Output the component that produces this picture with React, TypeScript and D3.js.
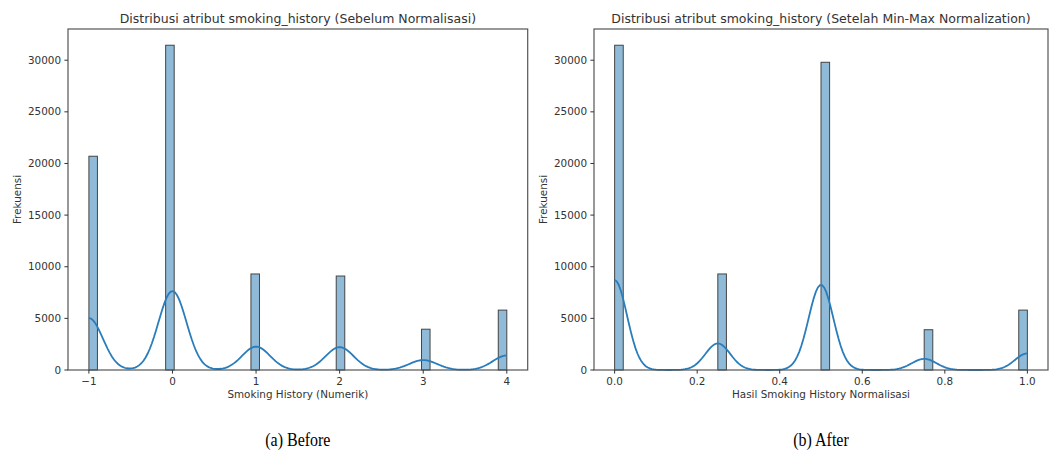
import * as d3 from "d3";

// Counts (smoking_history)
const BEFORE_VALUES = [-1, 0, 1, 2, 3, 4];
const BEFORE_COUNTS = [20700, 31450, 9300, 9100, 3950, 5800];
const BEFORE_TICKS = [-1, 0, 1, 2, 3, 4];

const AFTER_VALUES = [0, 0.25, 0.5, 0.75, 1];
const AFTER_COUNTS = [31450, 9300, 29800, 3900, 5800];
const AFTER_TICKS = [0, 0.2, 0.4, 0.6, 0.8, 1.0];

const Y_TICKS = [0, 5000, 10000, 15000, 20000, 25000, 30000];

const W = 1050;
const H = 452;
const TOP = 29;
const BOTTOM = 370;

const BAR_FILL = "rgba(31,119,180,0.5)";
const BAR_EDGE = "#444";
const KDE_COLOR = "#2a7dba";
const SPINE = "#555";
const TEXT = "#333";
const FONT = "'DejaVu Sans', sans-serif";

interface PanelProps {
  values: number[];
  counts: number[];
  xTicks: number[];
  xFormat: (d: number) => string;
  bins: number;
  bandwidth: number;
  title: string;
  xLabel: string;
  caption: string;
  left: number;
  right: number;
  yLabelX: number;
}

function Panel(p: PanelProps) {
  const [min, max] = d3.extent(p.values) as [number, number];
  const pad = (max - min) * 0.05;
  const x = d3.scaleLinear().domain([min - pad, max + pad]).range([p.left, p.right]);
  const y = d3.scaleLinear().domain([0, (d3.max(p.counts) as number) * 1.05]).range([BOTTOM, TOP]);

  // numpy-style binning of each value
  const binW = (max - min) / p.bins;
  const bars = p.values.map((v, i) => {
    const k = Math.min(Math.floor((v - min) / binW + 1e-9), p.bins - 1);
    return { x0: min + k * binW, x1: min + (k + 1) * binW, count: p.counts[i] };
  });

  // gaussian KDE scaled to counts, clipped to the data range (cut=0)
  const h = p.bandwidth;
  const norm = 1 / (h * Math.sqrt(2 * Math.PI));
  const grid = d3.range(200).map((i) => min + ((max - min) * i) / 199);
  const kde = grid.map((g) => {
    let s = 0;
    p.values.forEach((v, i) => {
      const z = (g - v) / h;
      s += p.counts[i] * binW * norm * Math.exp(-0.5 * z * z);
    });
    return [g, s] as [number, number];
  });
  const line = d3.line<[number, number]>().x((d) => x(d[0])).y((d) => y(d[1]));

  const cx = (p.left + p.right) / 2;
  const cy = (TOP + BOTTOM) / 2;

  return (
    <g fontFamily={FONT} fill={TEXT}>
      <text x={cx} y={22.5} textAnchor="middle" fontSize={12.5}>{p.title}</text>

      {bars.map((b, i) => (
        <rect
          key={i}
          x={x(b.x0)}
          y={y(b.count)}
          width={x(b.x1) - x(b.x0)}
          height={BOTTOM - y(b.count)}
          fill={BAR_FILL}
          stroke={BAR_EDGE}
          strokeWidth={1}
        />
      ))}

      <path d={line(kde) || ""} fill="none" stroke={KDE_COLOR} strokeWidth={1.8} />

      <rect x={p.left} y={TOP} width={p.right - p.left} height={BOTTOM - TOP}
        fill="none" stroke={SPINE} strokeWidth={1.2} />

      {Y_TICKS.map((t) => (
        <g key={t}>
          <line x1={p.left - 3.6} x2={p.left} y1={y(t)} y2={y(t)} stroke={TEXT} strokeWidth={1} />
          <text x={p.left - 7} y={y(t)} dy="0.35em" textAnchor="end" fontSize={10.4}>{t}</text>
        </g>
      ))}

      {p.xTicks.map((t) => (
        <g key={t}>
          <line x1={x(t)} x2={x(t)} y1={BOTTOM} y2={BOTTOM + 3.6} stroke={TEXT} strokeWidth={1} />
          <text x={x(t)} y={385} textAnchor="middle" fontSize={10.4}>{p.xFormat(t)}</text>
        </g>
      ))}

      <text x={cx} y={398} textAnchor="middle" fontSize={10.4}>{p.xLabel}</text>
      <text transform={`translate(${p.yLabelX},${cy}) rotate(-90)`} textAnchor="middle"
        dy="0.35em" fontSize={10.4}>Frekuensi</text>

      <text transform={`translate(${cx},446) scale(0.82,1)`} textAnchor="middle"
        fontFamily="'Liberation Serif', serif" fontSize={19.5} fill="#000">{p.caption}</text>
    </g>
  );
}

export default function App() {
  const fmtInt = (d: number) => d3.format("d")(d);
  const fmt1 = (d: number) => d3.format(".1f")(d);
  return (
    <svg width={W} height={H} viewBox={`0 0 ${W} ${H}`}
      style={{ position: "absolute", left: 0, top: 0, background: "#fff" }}>
      <rect width={W} height={H} fill="#fff" />
      <Panel
        values={BEFORE_VALUES}
        counts={BEFORE_COUNTS}
        xTicks={BEFORE_TICKS}
        xFormat={fmtInt}
        bins={49}
        bandwidth={0.1675}
        title="Distribusi atribut smoking_history (Sebelum Normalisasi)"
        xLabel="Smoking History (Numerik)"
        caption="(a) Before"
        left={68}
        right={527.7}
        yLabelX={17}
      />
      <Panel
        values={AFTER_VALUES}
        counts={AFTER_COUNTS}
        xTicks={AFTER_TICKS}
        xFormat={fmt1}
        bins={48}
        bandwidth={0.03}
        title="Distribusi atribut smoking_history (Setelah Min-Max Normalization)"
        xLabel="Hasil Smoking History Normalisasi"
        caption="(b) After"
        left={594}
        right={1048}
        yLabelX={543}
      />
    </svg>
  );
}
